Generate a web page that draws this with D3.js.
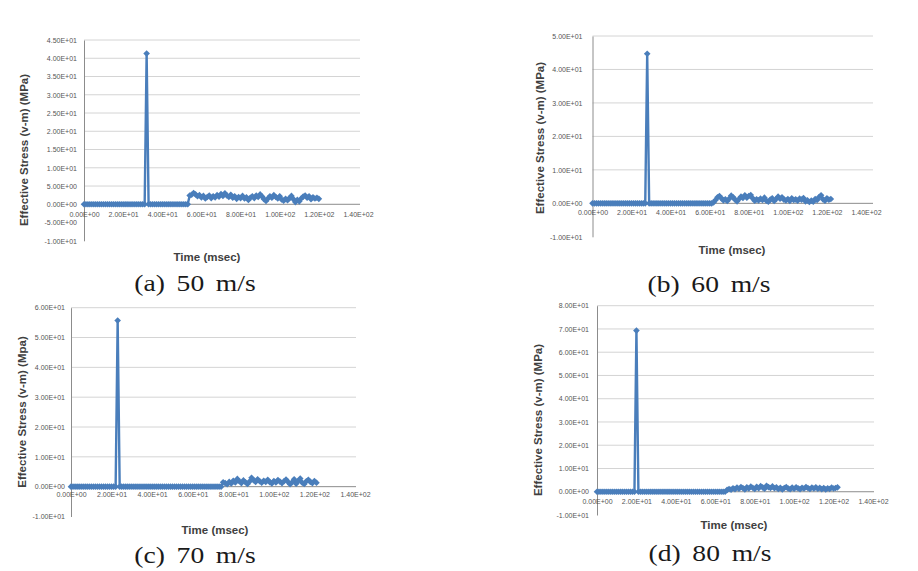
<!DOCTYPE html>
<html>
<head>
<meta charset="utf-8">
<script src="https://cdn.jsdelivr.net/npm/d3@7"></script>
<style>
  body { margin: 0; background: #fff; }
  svg { display: block; }
</style>
</head>
<body>
<svg id="chart" width="918" height="571"></svg>
<script>
// time in msec (shared by all four runs)
const time = [0,1,2,3,4,5,6,7,8,9,10,11,12,13,14,15,16,17,18,19,
  20,21,22,23,24,25,26,27,28,29,30,31,32,33,34,35,36,37,38,39,
  40,41,42,43,44,45,46,47,48,49,50,51,52,53,54,55,56,57,58,59,
  60,61,62,63,64,65,66,67,68,69,70,71,72,73,74,75,76,77,78,79,
  80,81,82,83,84,85,86,87,88,89,90,91,92,93,94,95,96,97,98,99,
  100,101,102,103,104,105,106,107,108,109,110,111,112,113,114,115,116,117,118,119,
  120,121,122];

// effective stress (MPa)
const stress50 = [0,0,0,0,0,0,0,0,0,0, 0,0,0,0,0,0,0,0,0,0, 0,0,0,0,0,0,0,0,0,0, 0,0,
  41.3,
  0,0,0,0,0,0,0,0,0,0, 0,0,0,0,0,0,0,0,0,0, 0,
  2.4,2.6,3.1,2.7,2.2,2.5,1.9,2.3,1.6,2.0,
  2.4,1.7,2.2,1.9,2.5,2.1,2.8,2.3,3.0,2.4,
  2.0,2.6,1.8,2.2,1.5,2.0,1.7,2.3,1.6,1.9,
  1.2,1.8,2.2,1.7,2.4,2.0,2.7,2.1,1.4,0.9,
  1.6,2.2,1.8,2.5,2.0,1.6,2.2,1.3,1.0,1.5,
  1.1,1.7,2.3,1.4,0.6,1.2,0.8,1.6,2.1,2.4,
  1.8,2.2,1.4,1.9,1.6,1.8,1.5];

const stress60 = [0,0,0,0,0,0,0,0,0,0, 0,0,0,0,0,0,0,0,0,0, 0,0,0,0,0,0,0,0,
  44.7,
  0,0,0,0,0,0,0,0,0,0, 0,0,0,0,0,0,0,0,0,0, 0,0,0,0,0,0,0,0,0,0, 0,0,0,
  0.3,1.0,1.8,2.2,1.5,0.9,1.2,0.7,1.4,2.3,
  1.8,1.1,0.6,1.3,2.0,1.6,2.4,1.7,2.2,2.5,
  1.5,0.8,1.2,0.9,1.4,1.0,1.7,0.8,0.5,1.1,
  1.5,0.7,1.3,2.0,1.4,1.8,1.1,0.9,1.3,0.7,
  1.5,1.0,1.2,0.8,1.4,1.1,1.6,0.6,0.9,0.4,
  0.8,0.5,1.3,1.0,1.9,2.4,1.2,0.8,1.5,1.1,
  1.3];

const stress70 = [0,0,0,0,0,0,0,0,0,0, 0,0,0,0,0,0,0,0,0,0, 0,0,0,
  55.7,
  0,0,0,0,0,0,0,0,0,0, 0,0,0,0,0,0,0,0,0,0, 0,0,0,0,0,0,0,0,0,0,
  0,0,0,0,0,0,0,0,0,0, 0,0,0,0,0,0,0,0,0,0, 0,
  1.5,1.2,0.8,1.6,1.1,2.0,1.4,2.6,1.8,1.2,
  2.1,1.5,0.9,1.7,3.0,2.2,1.6,2.5,1.8,1.3,
  2.0,1.6,2.3,1.5,1.1,1.9,1.4,2.2,1.7,1.2,
  1.8,2.4,1.6,0.8,1.5,2.5,1.0,1.9,2.7,1.3,
  0.9,1.8,2.3,1.6,1.2,1.9,1.3];

const stress80 = [0,0,0,0,0,0,0,0,0,0, 0,0,0,0,0,0,0,0,0,0,
  69.3,
  0,0,0,0,0,0,0,0,0,0, 0,0,0,0,0,0,0,0,0,0, 0,0,0,0,0,0,0,0,0,0,
  0,0,0,0,0,0,0,0,0,0, 0,0,0,0,0,
  0.8,1.2,0.9,1.5,1.1,1.8,1.3,2.0,1.6,1.0,
  1.9,1.4,2.2,1.7,1.2,2.1,1.5,2.4,1.9,1.3,
  2.6,2.0,1.6,2.3,1.5,1.9,1.2,1.7,1.0,1.6,
  2.0,1.4,1.1,1.8,1.3,1.9,1.5,1.1,1.7,1.4,
  2.0,1.6,1.2,1.8,1.4,1.9,1.3,1.7,1.1,1.6,
  1.0,1.5,1.2,1.8,1.4,1.6,1.9];

const xTicks = [0,20,40,60,80,100,120,140];
const yTicks50 = [-10,-5,0,5,10,15,20,25,30,35,40,45];
const yTicks60 = [-10,0,10,20,30,40,50];
const yTicks70 = [-10,0,10,20,30,40,50,60];
const yTicks80 = [-10,0,10,20,30,40,50,60,70,80];

const captions = ["(a) 50 m/s", "(b) 60 m/s", "(c) 70 m/s", "(d) 80 m/s"];
const yTitles = ["Effective Stress (v-m) (MPa)", "Effective Stress (v-m) (MPa)",
                 "Effective Stress (v-m) (Mpa)", "Effective Stress (v-m) (MPa)"];
const xTitle = "Time (msec)";

const svg = d3.select("#chart");
const blue = "#4a7ebb";

// Excel style 0.00E+00
const sci = function(v) {
  return v.toExponential(2).toUpperCase().replace(/E([+-])(\d)$/, "E$10$2");
};

// layout of the four panels
const panels = [
  {values: stress50, yTicks: yTicks50, left: 84, right: 358, gridRight: 360, top: 40, bottom: 240.8,
   yPad: 7, xPad: 8, yTitleX: 24, yTitleY: 150, xTitleX: 207, xTitleY: 261, capX: 195, capY: 291},
  {values: stress60, yTicks: yTicks60, left: 592.5, right: 866, gridRight: 873, top: 36, bottom: 236.8,
   yPad: 10, xPad: 7, yTitleX: 540, yTitleY: 138, xTitleX: 732, xTitleY: 254, capX: 709, capY: 292},
  {values: stress70, yTicks: yTicks70, left: 71, right: 355, gridRight: 356, top: 307.7, bottom: 516.5,
   yPad: 6, xPad: 5, yTitleX: 22, yTitleY: 412, xTitleX: 215, xTitleY: 534, capX: 195, capY: 563},
  {values: stress80, yTicks: yTicks80, left: 597, right: 873, gridRight: 874, top: 305.7, bottom: 515,
   yPad: 8, xPad: 7, yTitleX: 538, yTitleY: 420, xTitleX: 734, xTitleY: 529, capX: 710, capY: 561}
];

panels.forEach(function(p, k) {
  const yMin = p.yTicks[0];
  const yMax = p.yTicks[p.yTicks.length - 1];
  const x = d3.scaleLinear().domain([0, 140]).range([p.left, p.right]);
  const y = d3.scaleLinear().domain([yMin, yMax]).range([p.bottom, p.top]);
  const g = svg.append("g");

  // horizontal gridlines
  g.selectAll("line.grid")
    .data(p.yTicks.filter(v => v > 0))
    .enter()
    .append("line")
    .attr("class", "grid")
    .attr("x1", p.left)
    .attr("x2", p.gridRight)
    .attr("y1", d => y(d))
    .attr("y2", d => y(d))
    .attr("stroke", "#d4d4d4")
    .attr("stroke-width", 1);

  // vertical axis
  const yAxis = d3.axisLeft(y).tickValues(p.yTicks).tickFormat(sci).tickSize(0).tickPadding(p.yPad);
  const ya = g.append("g")
    .attr("transform", "translate(" + p.left + ",0)")
    .call(yAxis);

  // horizontal axis crossing at zero
  const xAxis = d3.axisBottom(x).tickValues(xTicks).tickFormat(sci).tickSize(0).tickPadding(p.xPad);
  const xa = g.append("g")
    .attr("transform", "translate(0," + y(0) + ")")
    .call(xAxis);

  [ya, xa].forEach(function(a) {
    a.select(".domain").attr("stroke", "#8c8c8c").attr("stroke-width", 1);
    a.selectAll("text")
      .attr("fill", "#555")
      .style("font-family", "'Liberation Sans', Arial, sans-serif")
      .style("font-size", "7px");
  });
  xa.select(".domain").attr("d", "M" + p.left + ",0H" + p.gridRight);

  // series
  const pts = p.values.map((v, i) => [time[i], v]);
  const line = d3.line().x(d => x(d[0])).y(d => y(d[1]));

  g.append("path")
    .datum(pts)
    .attr("d", line)
    .attr("fill", "none")
    .attr("stroke", blue)
    .attr("stroke-width", 2.4)
    .attr("stroke-linejoin", "round");

  const marker = d3.symbol().type(d3.symbolSquare).size(22);
  g.selectAll("path.mk")
    .data(pts)
    .enter()
    .append("path")
    .attr("class", "mk")
    .attr("d", marker)
    .attr("transform", d => "translate(" + x(d[0]) + "," + y(d[1]) + ") rotate(45)")
    .attr("fill", blue);

  // axis titles
  g.append("text")
    .attr("transform", "translate(" + p.yTitleX + "," + p.yTitleY + ") rotate(-90)")
    .attr("text-anchor", "middle")
    .attr("dy", "0.35em")
    .style("font-family", "'Liberation Sans', Arial, sans-serif")
    .style("font-weight", "bold")
    .style("font-size", "11.5px")
    .attr("fill", "#404040")
    .text(yTitles[k]);

  g.append("text")
    .attr("x", p.xTitleX)
    .attr("y", p.xTitleY)
    .attr("text-anchor", "middle")
    .style("font-family", "'Liberation Sans', Arial, sans-serif")
    .style("font-weight", "bold")
    .style("font-size", "11.5px")
    .attr("fill", "#404040")
    .text(xTitle);

  // caption under the panel (wide serif, like the original Batang)
  svg.append("text")
    .attr("transform", "translate(" + p.capX + "," + p.capY + ") scale(1.2,1)")
    .attr("text-anchor", "middle")
    .style("font-family", "'Liberation Serif', 'DejaVu Serif', serif")
    .style("font-size", "23px")
    .style("word-spacing", "4px")
    .attr("fill", "#1a1a1a")
    .text(captions[k]);
});
</script>
</body>
</html>
